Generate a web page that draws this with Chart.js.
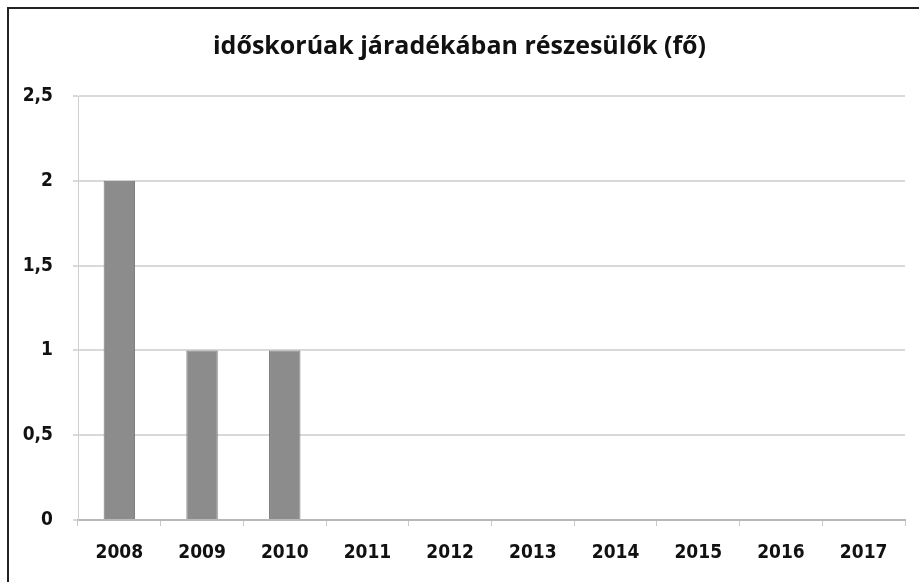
<!DOCTYPE html>
<html lang="hu">
<head>
  <meta charset="UTF-8">
  <title>időskorúak járadékában részesülők (fő)</title>
  <script src="https://cdn.jsdelivr.net/npm/chart.js"></script>
  <style>
    html, body {
      margin: 0;
      padding: 0;
      background: #fff;
    }

    .frame {
      position: absolute;
      left: 7px;
      top: 7px;
      width: 912px;
      height: 575px;
      border-left: 2px solid #222;
      border-top: 2px solid #222;
      box-sizing: border-box;
    }

    #wrap {
      position: absolute;
      left: 0;
      top: 0;
      width: 919px;
      height: 582px;
    }
  </style>
</head>
<body>
  <div class="frame"></div>
  <div id="wrap">
    <canvas id="chart" width="919" height="582"></canvas>
  </div>

  <script>
    // adatok
    const years = ['2008', '2009', '2010', '2011', '2012', '2013', '2014', '2015', '2016', '2017'];
    const recipients = [2, 1, 1, 0, 0, 0, 0, 0, 0, 0];
    const yTicks = [0, 0.5, 1, 1.5, 2, 2.5];

    const titleFont = "'Open Sans', 'Liberation Sans', sans-serif";
    const tickFont = "'DejaVu Sans Condensed', 'Open Sans', sans-serif";

    new Chart(document.getElementById('chart'), {
      type: 'bar',
      data: {
        labels: years,
        datasets: [{
          label: 'fő',
          data: recipients,
          backgroundColor: '#8c8c8c',
          borderColor: '#777',
          borderWidth: 1,
          barPercentage: 0.38,
          categoryPercentage: 1
        }]
      },
      options: {
        responsive: false,
        animation: false,
        layout: {
          padding: { left: 14, right: 14, top: 20, bottom: 14 }
        },
        plugins: {
          legend: { display: false },
          tooltip: { enabled: false },
          title: {
            display: true,
            text: 'időskorúak járadékában részesülők (fő)',
            color: '#111',
            font: { family: titleFont, size: 25, weight: 'bold' },
            padding: { top: 12, bottom: 34 }
          }
        },
        scales: {
          x: {
            grid: {
              display: true,
              drawOnChartArea: false,
              offset: true,
              color: '#c8c8c8',
              tickLength: 6
            },
            border: { color: '#b8b8b8', width: 2 },
            ticks: {
              color: '#111',
              font: { family: tickFont, size: 19, weight: 'bold' },
              padding: 16
            },
            afterFit: function (scale) { scale.height = 48; }
          },
          y: {
            min: 0,
            max: 2.5,
            afterBuildTicks: function (scale) {
              scale.ticks = yTicks.map(v => ({ value: v }));
            },
            grid: {
              color: '#d9d9d9',
              lineWidth: 2,
              tickLength: 5
            },
            border: { color: '#d0d0d0', width: 1 },
            ticks: {
              color: '#111',
              font: { family: tickFont, size: 19, weight: 'bold' },
              padding: 20,
              callback: function (value) {
                return String(value).replace('.', ',');
              }
            },
            afterFit: function (scale) { scale.width = 64; }
          }
        }
      }
    });
  </script>
</body>
</html>
